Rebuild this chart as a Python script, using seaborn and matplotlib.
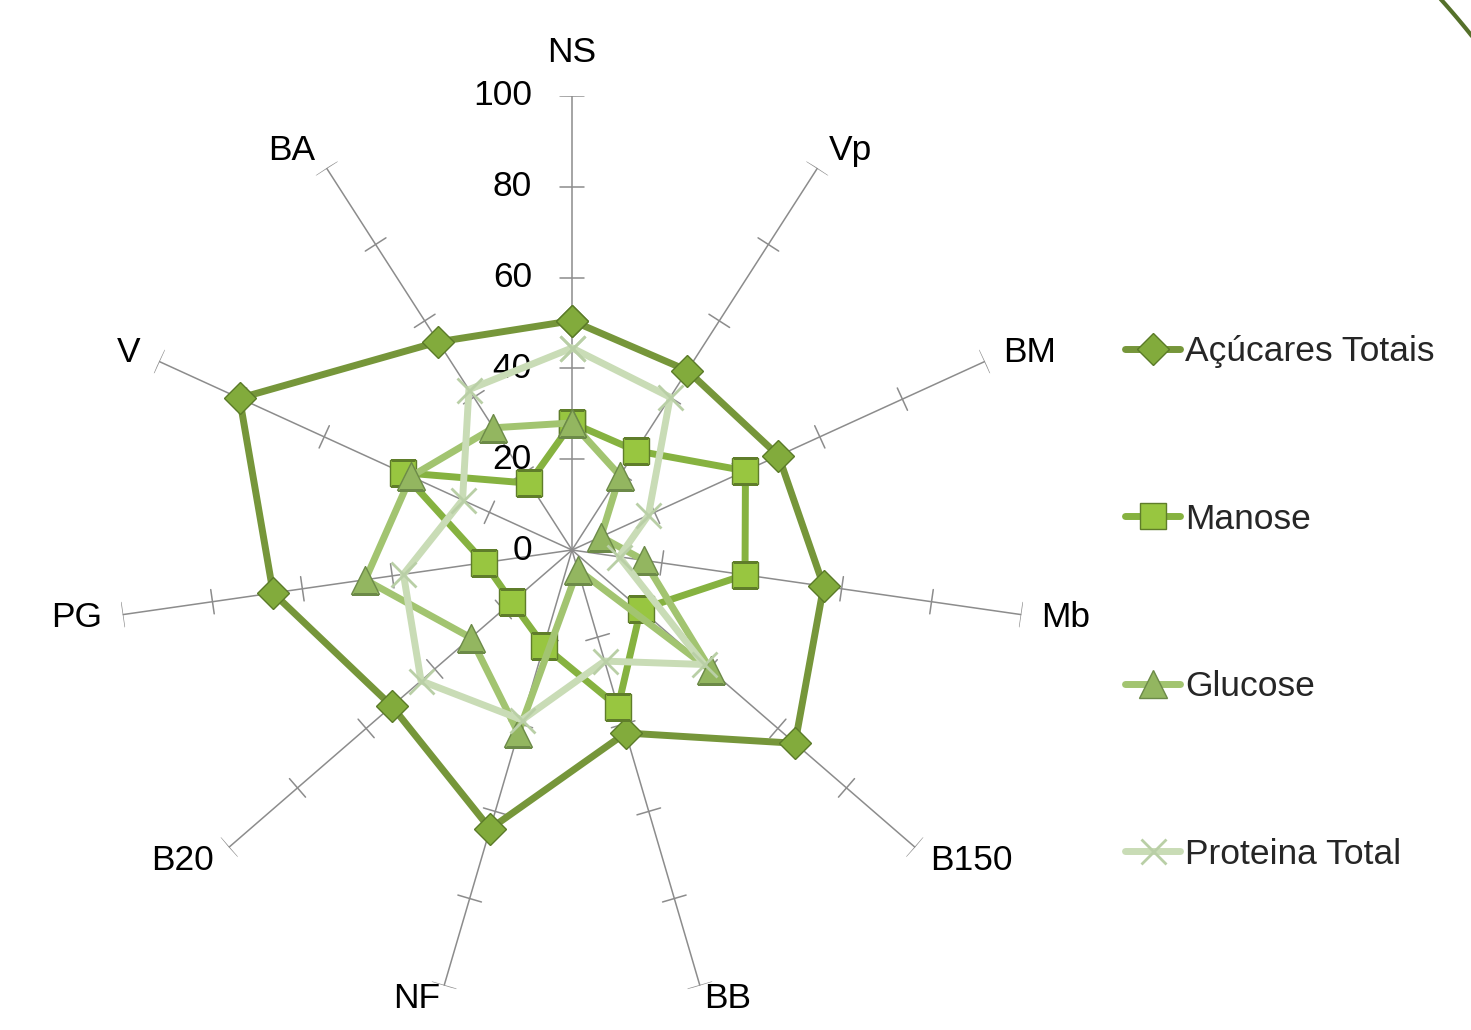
import numpy as np
import matplotlib
matplotlib.use("Agg")
import matplotlib.pyplot as plt
from matplotlib import font_manager
from matplotlib.lines import Line2D
import seaborn as sns

# data
categorias = ["NS", "Vp", "BM", "Mb", "B150", "BB", "NF", "B20", "PG", "V", "BA"]
acucares = [50.5, 47, 50, 56, 65, 42, 64, 52.5, 66.5, 80.5, 54.5]
manose = [28, 26, 42, 38.5, 20, 36, 22, 17.5, 19.5, 41, 17.5]
glucose = [28, 19.5, 7, 16, 40.5, 4.5, 42, 29.5, 46, 39, 32]
proteina = [44.5, 40, 18.5, 10.5, 38.5, 25.5, 39, 44, 37.5, 26.5, 42]
escala = [0, 20, 40, 60, 80, 100]

sns.set_style("white")

# narrow font if there is one, otherwise Liberation Sans a bit smaller
nomes = {f.name for f in font_manager.fontManager.ttflist}
if "Liberation Sans Narrow" in nomes:
    plt.rcParams["font.family"] = ["Liberation Sans Narrow", "DejaVu Sans"]
    fs = 29
else:
    plt.rcParams["font.family"] = ["Liberation Sans", "DejaVu Sans"]
    fs = 25.5

W, H = 1471, 1030
fig = plt.figure(figsize=(W / 100, H / 100), dpi=100)
ax = fig.add_axes([0.0802, 0.0252, 0.6173, 0.8816], projection="polar")
ax.set_theta_offset(np.pi / 2)
ax.set_theta_direction(-1)
ax.set_ylim(0, 100)
ax.grid(False)
ax.spines["polar"].set_visible(False)
ax.set_xticks([])
ax.set_yticks([])

n = len(categorias)
ang = np.linspace(0, 2 * np.pi, n, endpoint=False)

# spokes with small cross ticks
h = 2.7
for a in ang:
    ax.plot([a, a], [0, 100], color="#8c8c8c", lw=1.1, zorder=1)
    for r in escala[1:]:
        d = np.arctan(h / r)
        rr = np.hypot(r, h)
        ax.plot([a - d, a + d], [rr, rr], color="#8c8c8c", lw=1.1, zorder=1)

# category labels
for a, c in zip(ang, categorias):
    s = np.sin(a)
    if abs(s) < 0.05:
        ha = "center"
    elif s > 0:
        ha = "left"
    else:
        ha = "right"
    if np.cos(a) > 0.95:
        va, r = "bottom", 106
    elif np.cos(a) < -0.9:
        va, r = "center", 103
    else:
        va, r = "center", 104.5
    ax.text(a, r, c, ha=ha, va=va, fontsize=fs, color="black")

# radial scale labels
for v in escala:
    ax.annotate(str(v), xy=(0, v), xytext=(-40, 0), textcoords="offset pixels",
                ha="right", va="center", fontsize=fs, color="black",
                annotation_clip=False)

series = [
    ("Açúcares Totais", acucares, "#76963a", "D", 16, "#82ab3c", "#5a7a28", 1.0),
    ("Manose", manose, "#86b240", "s", 19, "#98c640", "#5f7d2a", 1.0),
    ("Glucose", glucose, "#a2c470", "^", 20, "#93b660", "#6c8a48", 1.0),
    ("Proteina Total", proteina, "#c9dcb6", "x", 18, "#b9cfa6", "#b9cfa6", 2.0),
]

theta = np.append(ang, ang[0])
for i, (nome, vals, cor, mk, ms, fc, ec, mew) in enumerate(series):
    rv = np.append(vals, vals[0])
    sns.lineplot(x=theta, y=rv, ax=ax, sort=False, estimator=None, color=cor,
                 lw=5, marker=mk, markersize=ms, markerfacecolor=fc,
                 markeredgecolor=ec, markeredgewidth=mew, label=nome,
                 zorder=3 + i, solid_capstyle="round")

fpx = fs * 100 / 72
hd, lb = ax.get_legend_handles_labels()
ax.legend(hd, lb, loc="center left", bbox_to_anchor=(1125 / W, 1 - 603 / H),
          bbox_transform=fig.transFigure, frameon=False, fontsize=fs,
          handlelength=55 / fpx, handletextpad=5 / fpx, labelspacing=(170 - fpx) / fpx,
          borderpad=0, borderaxespad=0)

# decorative arc at the top right corner (piece of a big circle)
t = np.radians(np.linspace(30, 50, 60))
cx, cy, rad = 861, 509, 780
fig.add_artist(Line2D((cx + rad * np.cos(t)) / W, (cy + rad * np.sin(t)) / H,
                      transform=fig.transFigure, color="#55702a", lw=3))

fig.savefig("out.png", dpi=100)
